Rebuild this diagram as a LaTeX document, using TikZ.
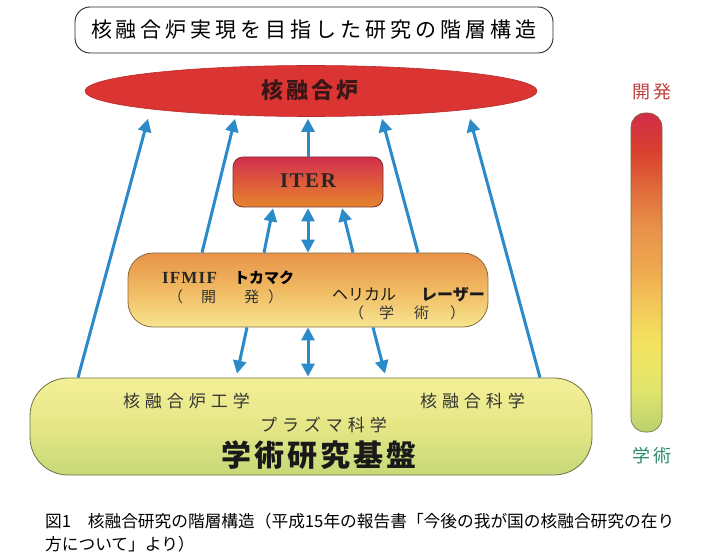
\documentclass[tikz,border=0pt]{standalone}
\usepackage{fontspec}
\setmainfont{Liberation Serif}
\newfontfamily\jp{Noto Sans CJK JP}
\usetikzlibrary{arrows.meta,shapes.geometric}
\def\sptxt#1#2{\def\sptxtgap{#1}\sptxtfirst#2\relax}
\def\sptxtfirst#1{#1\sptxtrest}
\def\sptxtrest#1{\ifx\relax#1\else\hspace{\sptxtgap}#1\expandafter\sptxtrest\fi}
\definecolor{arrc}{HTML}{2A8BC8}
\definecolor{cEll}{HTML}{DA3433}
\definecolor{cEllB}{HTML}{B82A2A}
\definecolor{cEllTxt}{HTML}{3A1616}
\definecolor{cIterTop}{HTML}{D22F4F}
\definecolor{cIterMid}{HTML}{DD5A3A}
\definecolor{cIterBot}{HTML}{E5852F}
\definecolor{cIterB}{HTML}{7A3030}
\definecolor{cMidTop}{HTML}{E8934A}
\definecolor{cMidMid}{HTML}{F0BA62}
\definecolor{cMidBot}{HTML}{F7E590}
\definecolor{cMidB}{HTML}{8C6C3C}
\definecolor{cBaseTop}{HTML}{F3EF98}
\definecolor{cBaseMid}{HTML}{E6E686}
\definecolor{cBaseBot}{HTML}{C5D978}
\definecolor{cBaseB}{HTML}{6F7048}
\definecolor{cBarB}{HTML}{7A6A40}
\definecolor{cDev}{HTML}{C0403E}
\definecolor{cAca}{HTML}{2E8B6A}
\definecolor{cTxt}{HTML}{333333}
\pgfdeclareverticalshading{barshade}{100bp}{
 rgb(0bp)=(0.73,0.82,0.44);
 rgb(25bp)=(0.73,0.82,0.44);
 rgb(32bp)=(0.89,0.90,0.42);
 rgb(39bp)=(0.95,0.89,0.37);
 rgb(45bp)=(0.95,0.78,0.35);
 rgb(50bp)=(0.94,0.67,0.31);
 rgb(57bp)=(0.91,0.57,0.29);
 rgb(63bp)=(0.88,0.42,0.23);
 rgb(69bp)=(0.85,0.25,0.18);
 rgb(75bp)=(0.82,0.18,0.29);
 rgb(100bp)=(0.82,0.18,0.29)}
\begin{document}
\begin{tikzpicture}[x=1pt,y=-1pt,
  arr/.style={draw=arrc, line width=3pt, -{Triangle[length=13pt,width=13pt]}},
  darr/.style={draw=arrc, line width=3pt, {Triangle[length=13pt,width=13pt]}-{Triangle[length=13pt,width=13pt]}},
  txt/.style={inner sep=0pt, font=\jp, text=cTxt},
  box/.style={inner sep=0pt, line width=0.8pt}
]
\useasboundingbox (0,0) rectangle (702,559);
\fill[white] (0,0) rectangle (702,559);
% title
\node[draw=black!85, line width=0.9pt, rounded corners=15pt, minimum width=478pt, minimum height=46pt, inner sep=0pt] (title) at (314,30)
  {\jp\fontsize{21pt}{21pt}\selectfont\sptxt{4pt}{核融合炉実現を目指した研究の階層構造}};
% ellipse
\node[ellipse, fill=cEll, draw=cEllB, line width=0.6pt, minimum width=452pt, minimum height=51pt, inner sep=0pt] (fr) at (311,91) {};
\node[txt, text=cEllTxt] (frt) at (310,90) {\bfseries\fontsize{22pt}{22pt}\selectfont\sptxt{3pt}{核融合炉}};
% ITER
\node[box, rounded corners=10pt, draw=cIterB, top color=cIterTop, bottom color=cIterBot, middle color=cIterMid, minimum width=150pt, minimum height=50pt] (iter) at (308,182) {};
\node[inner sep=0pt, text=black!85] (itertxt) at (308,181) {\bfseries\fontsize{21pt}{21pt}\selectfont\sptxt{1.5pt}{ITER}};
% middle
\node[box, rounded corners=25pt, draw=cMidB, top color=cMidTop, bottom color=cMidBot, middle color=cMidMid, minimum width=360pt, minimum height=74pt] (mid) at (308,290) {};
\node[inner sep=0pt, text=black!85] (ifmif) at (189.5,278) {\bfseries\fontsize{17pt}{17pt}\selectfont\sptxt{1.2pt}{IFMIF}};
\node[txt, text=black] (toka) at (264,278) {\bfseries\fontsize{15pt}{15pt}\selectfont トカマク};
\node[txt, anchor=west] (kaihatsu) at (168,297) {\fontsize{15pt}{15pt}\selectfont （\hspace{18pt}開\hspace{28pt}発\hspace{9pt}）};
\node[txt, anchor=west, text=black!90] (heli) at (332,295) {\fontsize{16pt}{16pt}\selectfont ヘリカル\hspace{25pt}{\bfseries レーザー}};
\node[txt, anchor=west] (gaku) at (349,313) {\fontsize{15pt}{15pt}\selectfont （\hspace{15pt}学\hspace{20pt}術\hspace{21pt}）};
% base
\node[box, rounded corners=38pt, draw=cBaseB, top color=cBaseTop, bottom color=cBaseBot, middle color=cBaseMid, minimum width=562pt, minimum height=97pt] (base) at (311,426.5) {};
\node[txt] (kogaku) at (186.5,401) {\fontsize{17pt}{17pt}\selectfont\sptxt{5pt}{核融合炉工学}};
\node[txt] (kagaku) at (472.5,401) {\fontsize{17pt}{17pt}\selectfont\sptxt{5pt}{核融合科学}};
\node[txt] (plasma) at (323.5,425) {\fontsize{17pt}{17pt}\selectfont\sptxt{5pt}{プラズマ科学}};
\node[txt, text=black!90] (kiban) at (319,455) {\bfseries\fontsize{30pt}{30pt}\selectfont\sptxt{3pt}{学術研究基盤}};
% color bar
\node[draw=cBarB, line width=0.6pt, rounded corners=14pt, shading=barshade, minimum width=31pt, minimum height=319pt, inner sep=0pt] (bar) at (646.5,272.5) {};
\node[txt, text=cDev] (dev) at (652,92) {\fontsize{18pt}{18pt}\selectfont\sptxt{3pt}{開発}};
\node[txt, text=cAca] (aca) at (652,456) {\fontsize{18pt}{18pt}\selectfont\sptxt{3pt}{学術}};
% caption
\node[txt, anchor=west, text=black] (cap1) at (45,521) {\fontsize{16.7pt}{16.7pt}\selectfont 図1　核融合研究の階層構造（平成15年の報告書「今後の我が国の核融合研究の在り};
\node[txt, anchor=west, text=black] (cap2) at (45,544) {\fontsize{16.7pt}{16.7pt}\selectfont 方について」より）};
% arrows
\draw[arr] ([xshift=-233pt]base.north) -- ([xshift=-163pt,yshift=-2pt]fr.south);
\draw[arr] ([xshift=-106pt]mid.north) -- ([xshift=-76pt,yshift=-2pt]fr.south);
\draw[arr] (iter.north) -- ([xshift=-3pt,yshift=-2pt]fr.south);
\draw[arr] ([xshift=110pt]mid.north) -- ([xshift=71pt,yshift=-2pt]fr.south);
\draw[arr] ([xshift=229pt]base.north) -- ([xshift=159pt,yshift=-2pt]fr.south);
\draw[arr] ([xshift=-44pt]mid.north) -- ([xshift=-35pt,yshift=-1pt]iter.south);
\draw[darr] (mid.north) -- ([yshift=-1pt]iter.south);
\draw[arr] ([xshift=45pt]mid.north) -- ([xshift=34pt,yshift=-1pt]iter.south);
\draw[arr] ([xshift=-61pt]mid.south) -- ([xshift=-74pt,yshift=4pt]base.north);
\draw[darr] (mid.south) -- ([xshift=-3pt,yshift=1pt]base.north);
\draw[arr] ([xshift=65pt]mid.south) -- ([xshift=74pt,yshift=4pt]base.north);
\end{tikzpicture}
\end{document}
